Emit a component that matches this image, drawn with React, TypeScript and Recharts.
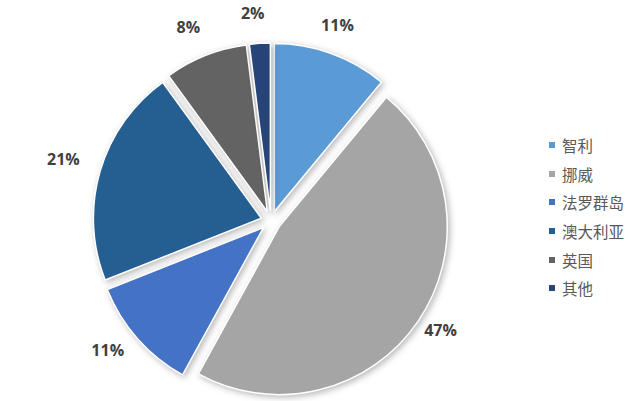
import { Cell, Legend, Pie, PieChart } from 'recharts'

const countries = ['智利', '挪威', '法罗群岛', '澳大利亚', '英国', '其他']
const shares = [11, 47, 11, 21, 8, 2]
const colors = ['#5B9BD5', '#A5A5A5', '#4472C4', '#255E91', '#636363', '#264478']

const rows = countries.map((name, i) => ({ name, value: shares[i] }))

const WIDTH = 633
const HEIGHT = 401
const CX = 266
const CY = 216
const RADIUS = 168
const EXPLODE = 10
const LABEL_GAP = 16
const LABEL_HALF_W = 17
const LABEL_HALF_H = 9
const RAD = Math.PI / 180

const total = shares.reduce((a, b) => a + b, 0)
// clockwise angle from 12 o'clock to the middle of each slice
const midAngles = shares.map((v, i) => {
  const before = shares.slice(0, i).reduce((a, b) => a + b, 0)
  return ((before + v / 2) / total) * 360
})

// "outside end" label: anchor just past the arc, then push the text box out
function renderLabel(k: number) {
  return (props: any) => {
    if (props.index !== k) return null
    const a = midAngles[k] * RAD
    const r = RADIUS + EXPLODE + LABEL_GAP
    const x = CX + r * Math.sin(a) + LABEL_HALF_W * Math.sin(a)
    const y = CY - r * Math.cos(a) - LABEL_HALF_H * Math.cos(a)
    return (
      <text
        x={x}
        y={y}
        textAnchor="middle"
        dominantBaseline="central"
        fill="#404040"
        fontSize={16}
        fontWeight="bold"
        fontFamily="'Open Sans', sans-serif"
      >
        {`${props.value}%`}
      </text>
    )
  }
}

function LegendList() {
  return (
    <div style={{ fontFamily: "'Noto Sans CJK SC', sans-serif", fontSize: 15.5, color: '#595959' }}>
      {countries.map((name, i) => (
        <div key={name} style={{ display: 'flex', alignItems: 'center', height: 28.6 }}>
          <span style={{ width: 6, height: 6, background: colors[i], marginRight: 7 }} />
          <span>{name}</span>
        </div>
      ))}
    </div>
  )
}

export default function App() {
  return (
    <div style={{ position: 'absolute', left: 0, top: 0, width: WIDTH, height: HEIGHT, background: '#fff' }}>
      <style>{`.recharts-pie-sector path { filter: drop-shadow(2px 2px 3px rgba(0,0,0,0.28)); }`}</style>
      <PieChart width={WIDTH} height={HEIGHT}>
        {shares.map((_, k) => {
          const a = midAngles[k] * RAD
          return (
            <Pie
              key={k}
              data={rows}
              dataKey="value"
              nameKey="name"
              cx={CX + EXPLODE * Math.sin(a)}
              cy={CY - EXPLODE * Math.cos(a)}
              outerRadius={RADIUS}
              startAngle={90}
              endAngle={-270}
              label={renderLabel(k)}
              labelLine={false}
              legendType="none"
              isAnimationActive={false}
            >
              {rows.map((r, i) => (
                <Cell
                  key={r.name}
                  fill={i === k ? colors[i] : 'transparent'}
                  stroke={i === k ? '#ffffff' : 'none'}
                  strokeWidth={1.5}
                />
              ))}
            </Pie>
          )
        })}
        <Legend
          layout="vertical"
          align="right"
          verticalAlign="top"
          content={() => <LegendList />}
          wrapperStyle={{ position: 'absolute', left: 549, top: 131, width: 84 }}
        />
      </PieChart>
    </div>
  )
}
